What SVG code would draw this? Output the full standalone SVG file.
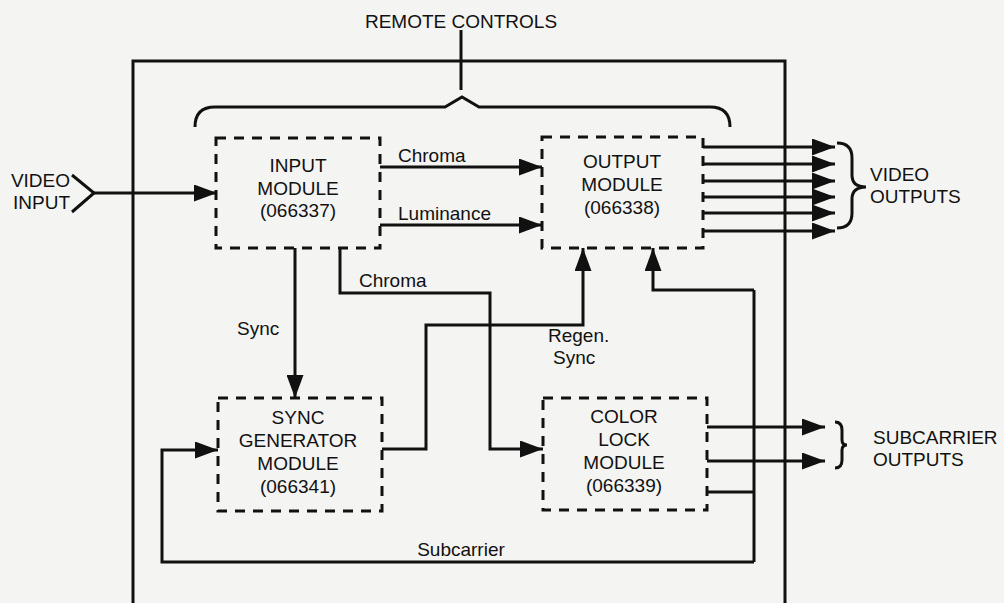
<svg xmlns="http://www.w3.org/2000/svg" width="1004" height="603" viewBox="0 0 1004 603">
<defs>
<marker id="ah" markerUnits="userSpaceOnUse" markerWidth="23" markerHeight="17" refX="23" refY="8.5" orient="auto">
<path d="M0,0 L23,8.5 L0,17 z" fill="#111"/>
</marker>
<style>
.t{font-family:"Liberation Sans",Arial,sans-serif;font-size:19px;fill:#111}
.c{text-anchor:middle}
.box{fill:none;stroke:#111;stroke-width:3;stroke-dasharray:10 8}
.ln{fill:none;stroke:#111;stroke-width:3}
.ar{fill:none;stroke:#111;stroke-width:3;marker-end:url(#ah)}
</style>
</defs>
<rect width="1004" height="603" fill="#f4f4f2"/>

<g id="frame">
<path class="ln" d="M133,603 L133,61 L785,61 L785,603"/>
</g>

<g id="remote-controls">
<text class="t c" x="461" y="28">REMOTE CONTROLS</text>
<path class="ln" d="M461,30 L461,90"/>
<path class="ln" d="M195,127 Q195,107 215,107 L445,107 L462,97 L479,107 L710,107 Q730,107 730,127"/>
</g>

<g id="video-input">
<text class="t" x="70" y="187" text-anchor="end">VIDEO</text>
<text class="t" x="70" y="209" text-anchor="end">INPUT</text>
<path class="ln" d="M72,175 L94,193 L72,212" stroke-width="3.5"/>
</g>

<g id="input-module">
<rect class="box" x="216" y="138" width="164" height="110"/>
<text class="t c" x="298" y="172">INPUT</text>
<text class="t c" x="298" y="195">MODULE</text>
<text class="t c" x="298" y="217">(066337)</text>
</g>

<g id="output-module">
<rect class="box" x="542" y="137" width="161" height="111"/>
<text class="t c" x="622" y="168">OUTPUT</text>
<text class="t c" x="622" y="191">MODULE</text>
<text class="t c" x="622" y="214">(066338)</text>
</g>

<g id="sync-generator-module">
<rect class="box" x="218" y="398" width="164" height="113"/>
<text class="t c" x="298" y="424">SYNC</text>
<text class="t c" x="298" y="447">GENERATOR</text>
<text class="t c" x="298" y="470">MODULE</text>
<text class="t c" x="298" y="493">(066341)</text>
</g>

<g id="color-lock-module">
<rect class="box" x="543" y="398" width="164" height="112"/>
<text class="t c" x="624" y="423">COLOR</text>
<text class="t c" x="624" y="446">LOCK</text>
<text class="t c" x="624" y="469">MODULE</text>
<text class="t c" x="624" y="492">(066339)</text>
</g>

<g id="video-outputs">
<path class="ln" d="M837,143 Q852,143 852,158 L852,175 Q852,187 866,187 Q852,187 852,199 L852,213 Q852,228 837,228"/>
<text class="t" x="870" y="181">VIDEO</text>
<text class="t" x="870" y="203">OUTPUTS</text>
</g>

<g id="subcarrier-outputs">
<path class="ln" d="M835,422 Q842,422 842,430 L842,440 Q842,445 847,445 Q842,445 842,450 L842,460 Q842,468 835,468"/>
<text class="t" x="873" y="444">SUBCARRIER</text>
<text class="t" x="873" y="466">OUTPUTS</text>
</g>

<g id="connectors">
<path class="ar" d="M94,193 L217,193"/>
<path class="ar" d="M380,167 L542,167"/>
<text class="t" x="398" y="162">Chroma</text>
<path class="ar" d="M380,225 L542,225"/>
<text class="t" x="398" y="220">Luminance</text>
<path class="ar" d="M295,248 L295,398"/>
<text class="t" x="237" y="335">Sync</text>
<path class="ar" d="M340,248 L340,293 L490,293 L490,449 L543,449"/>
<text class="t" x="359" y="287">Chroma</text>
<path class="ar" d="M382,449 L426,449 L426,325 L583,325 L583,248"/>
<text class="t" x="548" y="342">Regen.</text>
<text class="t" x="553" y="364">Sync</text>
<path class="ar" d="M754,290 L653,290 L653,248"/>
<path class="ln" d="M707,492 L754,492"/>
<path class="ln" d="M754,290 L754,562"/>
<path class="ar" d="M754,562 L162,562 L162,450 L218,450"/>
<text class="t c" x="461" y="556">Subcarrier</text>
<path class="ar" d="M707,427 L825,427"/>
<path class="ar" d="M707,461 L825,461"/>
<path class="ar" d="M703,147 L835,147"/>
<path class="ar" d="M703,164 L835,164"/>
<path class="ar" d="M703,181 L835,181"/>
<path class="ar" d="M703,197 L835,197"/>
<path class="ar" d="M703,213 L835,213"/>
<path class="ar" d="M703,231 L835,231"/>
</g>
</svg>
